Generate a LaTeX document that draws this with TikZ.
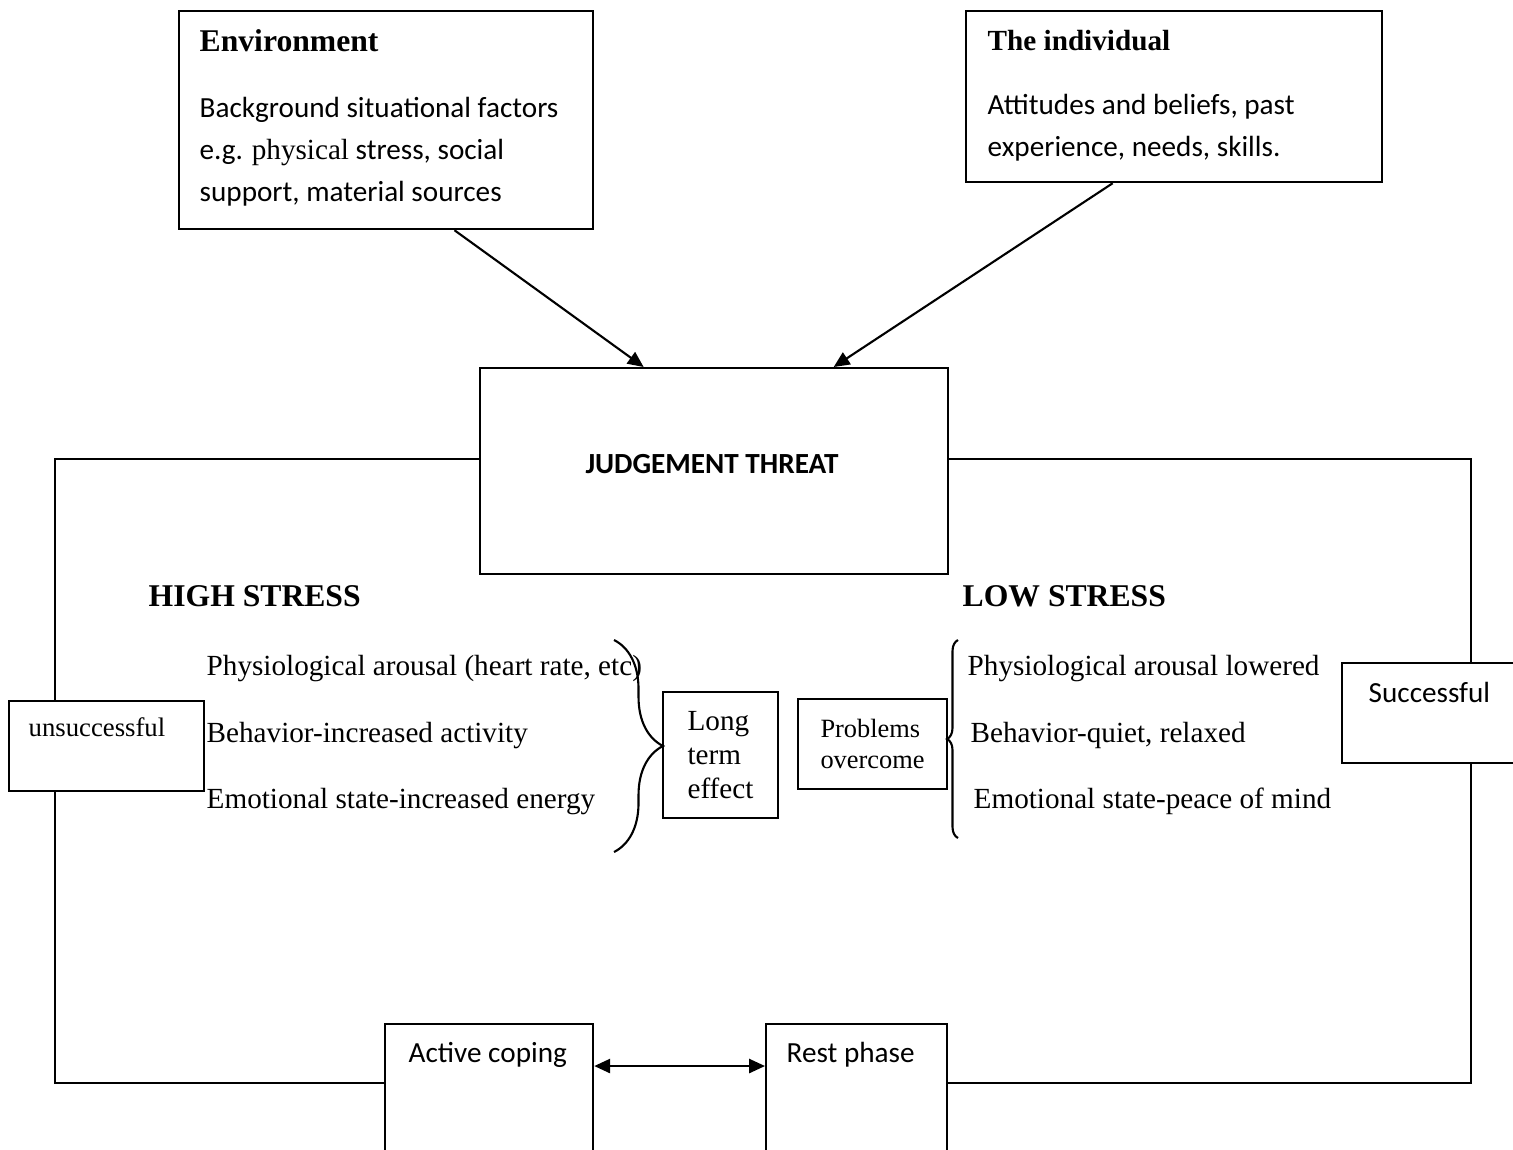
\documentclass[tikz,border=0pt]{standalone}
\usepackage{fontspec}
\setmainfont{Liberation Serif}
\newfontfamily\calibri{Carlito}
\usetikzlibrary{calc,positioning,arrows.meta,decorations.pathreplacing}

\tikzset{
  box/.style={draw, fill=white, line width=0.6pt, inner sep=0pt},
  txt/.style={inner sep=0pt, anchor=west, text height=6pt, text depth=2pt},
  serif/.style={txt, font=\fontsize{8.3}{10}\selectfont},
  sans/.style={txt, font=\calibri\fontsize{8.3}{10}\selectfont},
  head/.style={txt, font=\fontsize{9}{11}\selectfont\bfseries},
  link/.style={line width=0.6pt},
  bracket/.style={line width=0.6pt, decorate, decoration={brace, amplitude=#1}}
}

\begin{document}
\begin{tikzpicture}[x=0.01cm, y=-0.01cm, >={Triangle[length=4.5pt, width=4pt]}]
    \useasboundingbox (0,0) rectangle (1513,1149);
    \clip (0,0) rectangle (1513,1149);

    % top boxes
    \node[box, minimum width=4.14cm, minimum height=2.18cm, anchor=north west] (env) at (178,10) {};
    \node[head] (envhd) at (199,44) {Environment};
    \node[inner sep=0pt, anchor=north west, align=left, font=\calibri\fontsize{8.3}{11.9}\selectfont] (envtx) at (199,97)
      {Background situational factors\\e.g. {\rmfamily physical} stress, social\\support, material sources};

    \node[box, minimum width=4.16cm, minimum height=1.71cm, anchor=north west] (ind) at (965,10) {};
    \node[head, font=\fontsize{8.3}{10}\selectfont\bfseries] (indhd) at (987,43) {The individual};
    \node[inner sep=0pt, anchor=north west, align=left, font=\calibri\fontsize{8.3}{11.9}\selectfont] (indtx) at (987,94)
      {Attitudes and beliefs, past\\experience, needs, skills.};

    % central box
    \node[box, minimum width=4.68cm, minimum height=2.06cm, anchor=north west] (judge) at (479,367) {};
    \node[txt, anchor=center, font=\calibri\fontsize{8.3}{10}\selectfont\bfseries] (judgetx) at (712,466) {JUDGEMENT THREAT};

    \draw[link, ->] ($(env.south west)!0.664!(env.south east)$) -- ($(judge.north west)!0.35!(judge.north east)$);
    \draw[link, ->] ($(ind.south west)!0.353!(ind.south east)$) -- ($(judge.north west)!0.754!(judge.north east)$);

    % stress levels
    \node[head] (high) at (148,599) {HIGH STRESS};
    \node[head] (low) at (962,599) {LOW STRESS};

    \node[serif] (h1) at (206,668) {Physiological arousal (heart rate, etc)};
    \node[serif] (h2) at (206,735) {Behavior-increased activity};
    \node[serif] (h3) at (206,801) {Emotional state-increased energy};

    \node[serif] (l1) at (967,668) {Physiological arousal lowered};
    \node[serif] (l2) at (970,735) {Behavior-quiet, relaxed};
    \node[serif] (l3) at (973,801) {Emotional state-peace of mind};

    \node[box, align=left, minimum width=1.15cm, minimum height=1.26cm, font=\fontsize{8.3}{9.7}\selectfont] (lte) at (720.5,755) {Long\\term\\effect};
    \node[box, align=left, minimum width=1.49cm, minimum height=0.9cm, font=\fontsize{7.5}{8.6}\selectfont] (prob) at (872.5,744) {Problems\\overcome};

    % braces
    \coordinate (bh1) at (614,640);
    \coordinate (bh2) at (614,852);
    \coordinate (bl1) at (958,838);
    \coordinate (bl2) at (958,640);
    \draw[bracket=0.49cm] (bh1) -- (bh2);
    \draw[bracket=0.11cm] (bl1) -- (bl2);

    % outcome boxes
    \node[box, minimum width=1.95cm, minimum height=0.9cm, anchor=north west] (unsucc) at (8,700) {};
    \node[serif, font=\fontsize{7.6}{9}\selectfont] (unsucctx) at (28,729) {unsuccessful};
    \node[box, minimum width=2cm, minimum height=1cm, anchor=north west] (succ) at (1341,662) {};
    \node[sans] (succtx) at (1368,695) {Successful};

    \node[box, minimum width=2.08cm, minimum height=1.8cm, anchor=north west] (act) at (384,1023) {};
    \node[sans] (acttx) at (408,1055) {Active coping};
    \node[box, minimum width=1.81cm, minimum height=1.8cm, anchor=north west] (rest) at (765,1023) {};
    \node[sans] (resttx) at (786,1055) {Rest phase};

    \draw[link, <->] ([yshift=-0.43cm]act.north east) -- ([yshift=-0.43cm]rest.north west);

    % loop round the outside
    \coordinate (tl) at (55,459);
    \coordinate (bl) at (55,1083);
    \coordinate (tr) at (1471,459);
    \coordinate (br) at (1471,1083);
    \draw[link] (judge.west |- tl) -- (tl) -- (tl |- unsucc.north);
    \draw[link] (tl |- unsucc.south) -- (bl) -- (bl -| act.west);
    \draw[link] (judge.east |- tr) -- (tr) -- (tr |- succ.north);
    \draw[link] (tr |- succ.south) -- (br) -- (br -| rest.east);
  \end{tikzpicture}
\end{document}
